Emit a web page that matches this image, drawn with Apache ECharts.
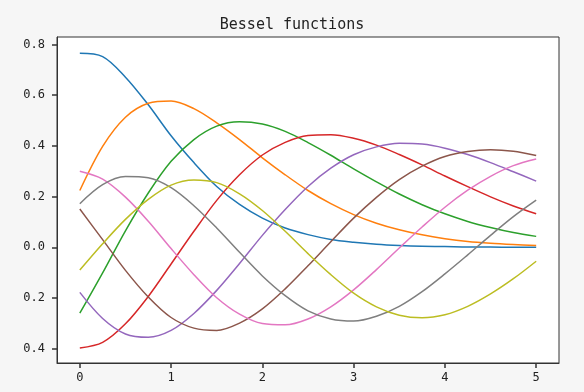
<!DOCTYPE html>
<html>
<head>
<meta charset="utf-8">
<title>Bessel functions</title>
<script src="https://cdn.jsdelivr.net/npm/echarts@6/dist/echarts.min.js"></script>
</head>
<body style="margin:0;background:#f6f6f6">
<div id="chart-box" style="width:584px;height:392px"></div>
<script>
    // order of the bessel function (x axis)
    var orders = [0, 0.25, 0.5, 0.75, 1, 1.25, 1.5, 1.75, 2, 2.25, 2.5, 2.75, 3, 3.25, 3.5, 3.75, 4, 4.25, 4.5, 4.75, 5];

    // one curve per argument 1..9
    var curve1 = [0.765, 0.752, 0.671, 0.562, 0.440, 0.334, 0.240, 0.169, 0.115, 0.076, 0.050, 0.031, 0.020, 0.012, 0.007, 0.004, 0.003, 0.001, 0.001, 0.000, 0.000];
    var curve2 = [0.224, 0.398, 0.513, 0.568, 0.577, 0.547, 0.491, 0.425, 0.353, 0.286, 0.224, 0.172, 0.129, 0.095, 0.069, 0.049, 0.034, 0.023, 0.016, 0.011, 0.007];
    var curve3 = [-0.260, -0.101, 0.065, 0.214, 0.339, 0.425, 0.478, 0.495, 0.486, 0.457, 0.413, 0.363, 0.309, 0.258, 0.210, 0.168, 0.132, 0.102, 0.078, 0.058, 0.043];
    var curve4 = [-0.397, -0.375, -0.302, -0.194, -0.066, 0.063, 0.185, 0.286, 0.364, 0.414, 0.441, 0.444, 0.430, 0.403, 0.366, 0.325, 0.281, 0.239, 0.199, 0.163, 0.132];
    var curve5 = [-0.178, -0.281, -0.342, -0.355, -0.328, -0.261, -0.170, -0.064, 0.047, 0.149, 0.240, 0.312, 0.365, 0.396, 0.410, 0.407, 0.391, 0.366, 0.334, 0.298, 0.261];
    var curve6 = [0.151, 0.030, -0.091, -0.196, -0.277, -0.319, -0.328, -0.299, -0.243, -0.164, -0.073, 0.022, 0.115, 0.197, 0.267, 0.320, 0.358, 0.378, 0.385, 0.379, 0.362];
    var curve7 = [0.300, 0.269, 0.198, 0.103, -0.005, -0.108, -0.199, -0.264, -0.301, -0.306, -0.283, -0.235, -0.168, -0.088, -0.003, 0.080, 0.158, 0.225, 0.280, 0.322, 0.348];
    var curve8 = [0.172, 0.247, 0.279, 0.274, 0.235, 0.164, 0.076, -0.020, -0.113, -0.191, -0.251, -0.283, -0.291, -0.272, -0.233, -0.175, -0.105, -0.030, 0.047, 0.121, 0.186];
    var curve9 = [-0.090, 0.014, 0.110, 0.189, 0.245, 0.265, 0.255, 0.211, 0.145, 0.063, -0.025, -0.108, -0.181, -0.235, -0.268, -0.278, -0.266, -0.233, -0.184, -0.124, -0.055];

    var xTicks = [0, 1, 2, 3, 4, 5];
    var yTicks = [-0.4, -0.2, 0, 0.2, 0.4, 0.6, 0.8];

    var curves = [curve1, curve2, curve3, curve4, curve5, curve6, curve7, curve8, curve9];
    var colors = ['#1f77b4', '#ff7f0e', '#2ca02c', '#d62728', '#9467bd', '#8c564b', '#e377c2', '#7f7f7f', '#bcbd22'];

    var font = 'DejaVu Sans Mono';
    var chart = echarts.init(document.getElementById('chart-box'));

    chart.setOption({
        backgroundColor: '#f6f6f6',
        animation: false,
        color: colors,
        title: {
            text: 'Bessel functions',
            left: 'center',
            top: 13,
            textStyle: { fontFamily: font, fontSize: 15, fontWeight: 'normal', color: '#222' }
        },
        grid: {
            left: 57, right: 25, top: 37, bottom: 29,
            show: true,
            backgroundColor: '#fff',
            borderColor: '#333'
        },
        xAxis: {
            type: 'value', min: -0.25, max: 5.25,
            splitLine: { show: false },
            axisLine: { show: true, onZero: false, lineStyle: { color: '#333' } },
            axisTick: { show: true, length: 5, customValues: xTicks, lineStyle: { color: '#333', width: 1.5 } },
            axisLabel: { customValues: xTicks, margin: 9, fontFamily: font, fontSize: 12, color: '#222' }
        },
        yAxis: {
            type: 'value', min: -0.4565, max: 0.8295,
            splitLine: { show: false },
            axisLine: { show: true, onZero: false, lineStyle: { color: '#333' } },
            axisTick: { show: true, length: 5, customValues: yTicks, lineStyle: { color: '#333', width: 1.5 } },
            axisLabel: {
                customValues: yTicks, margin: 12, fontFamily: font, fontSize: 12, color: '#222',
                // the original font had no minus glyph
                formatter: function (v) { return Math.abs(v).toFixed(1); }
            }
        },
        series: curves.map(function (vals, i) {
            return {
                name: 'k=' + (i + 1),
                type: 'line',
                smooth: 0.33,
                showSymbol: false,
                lineStyle: { width: 1.5 },
                data: orders.map(function (x, j) { return [x, vals[j]]; })
            };
        })
    });
</script>
</body>
</html>
